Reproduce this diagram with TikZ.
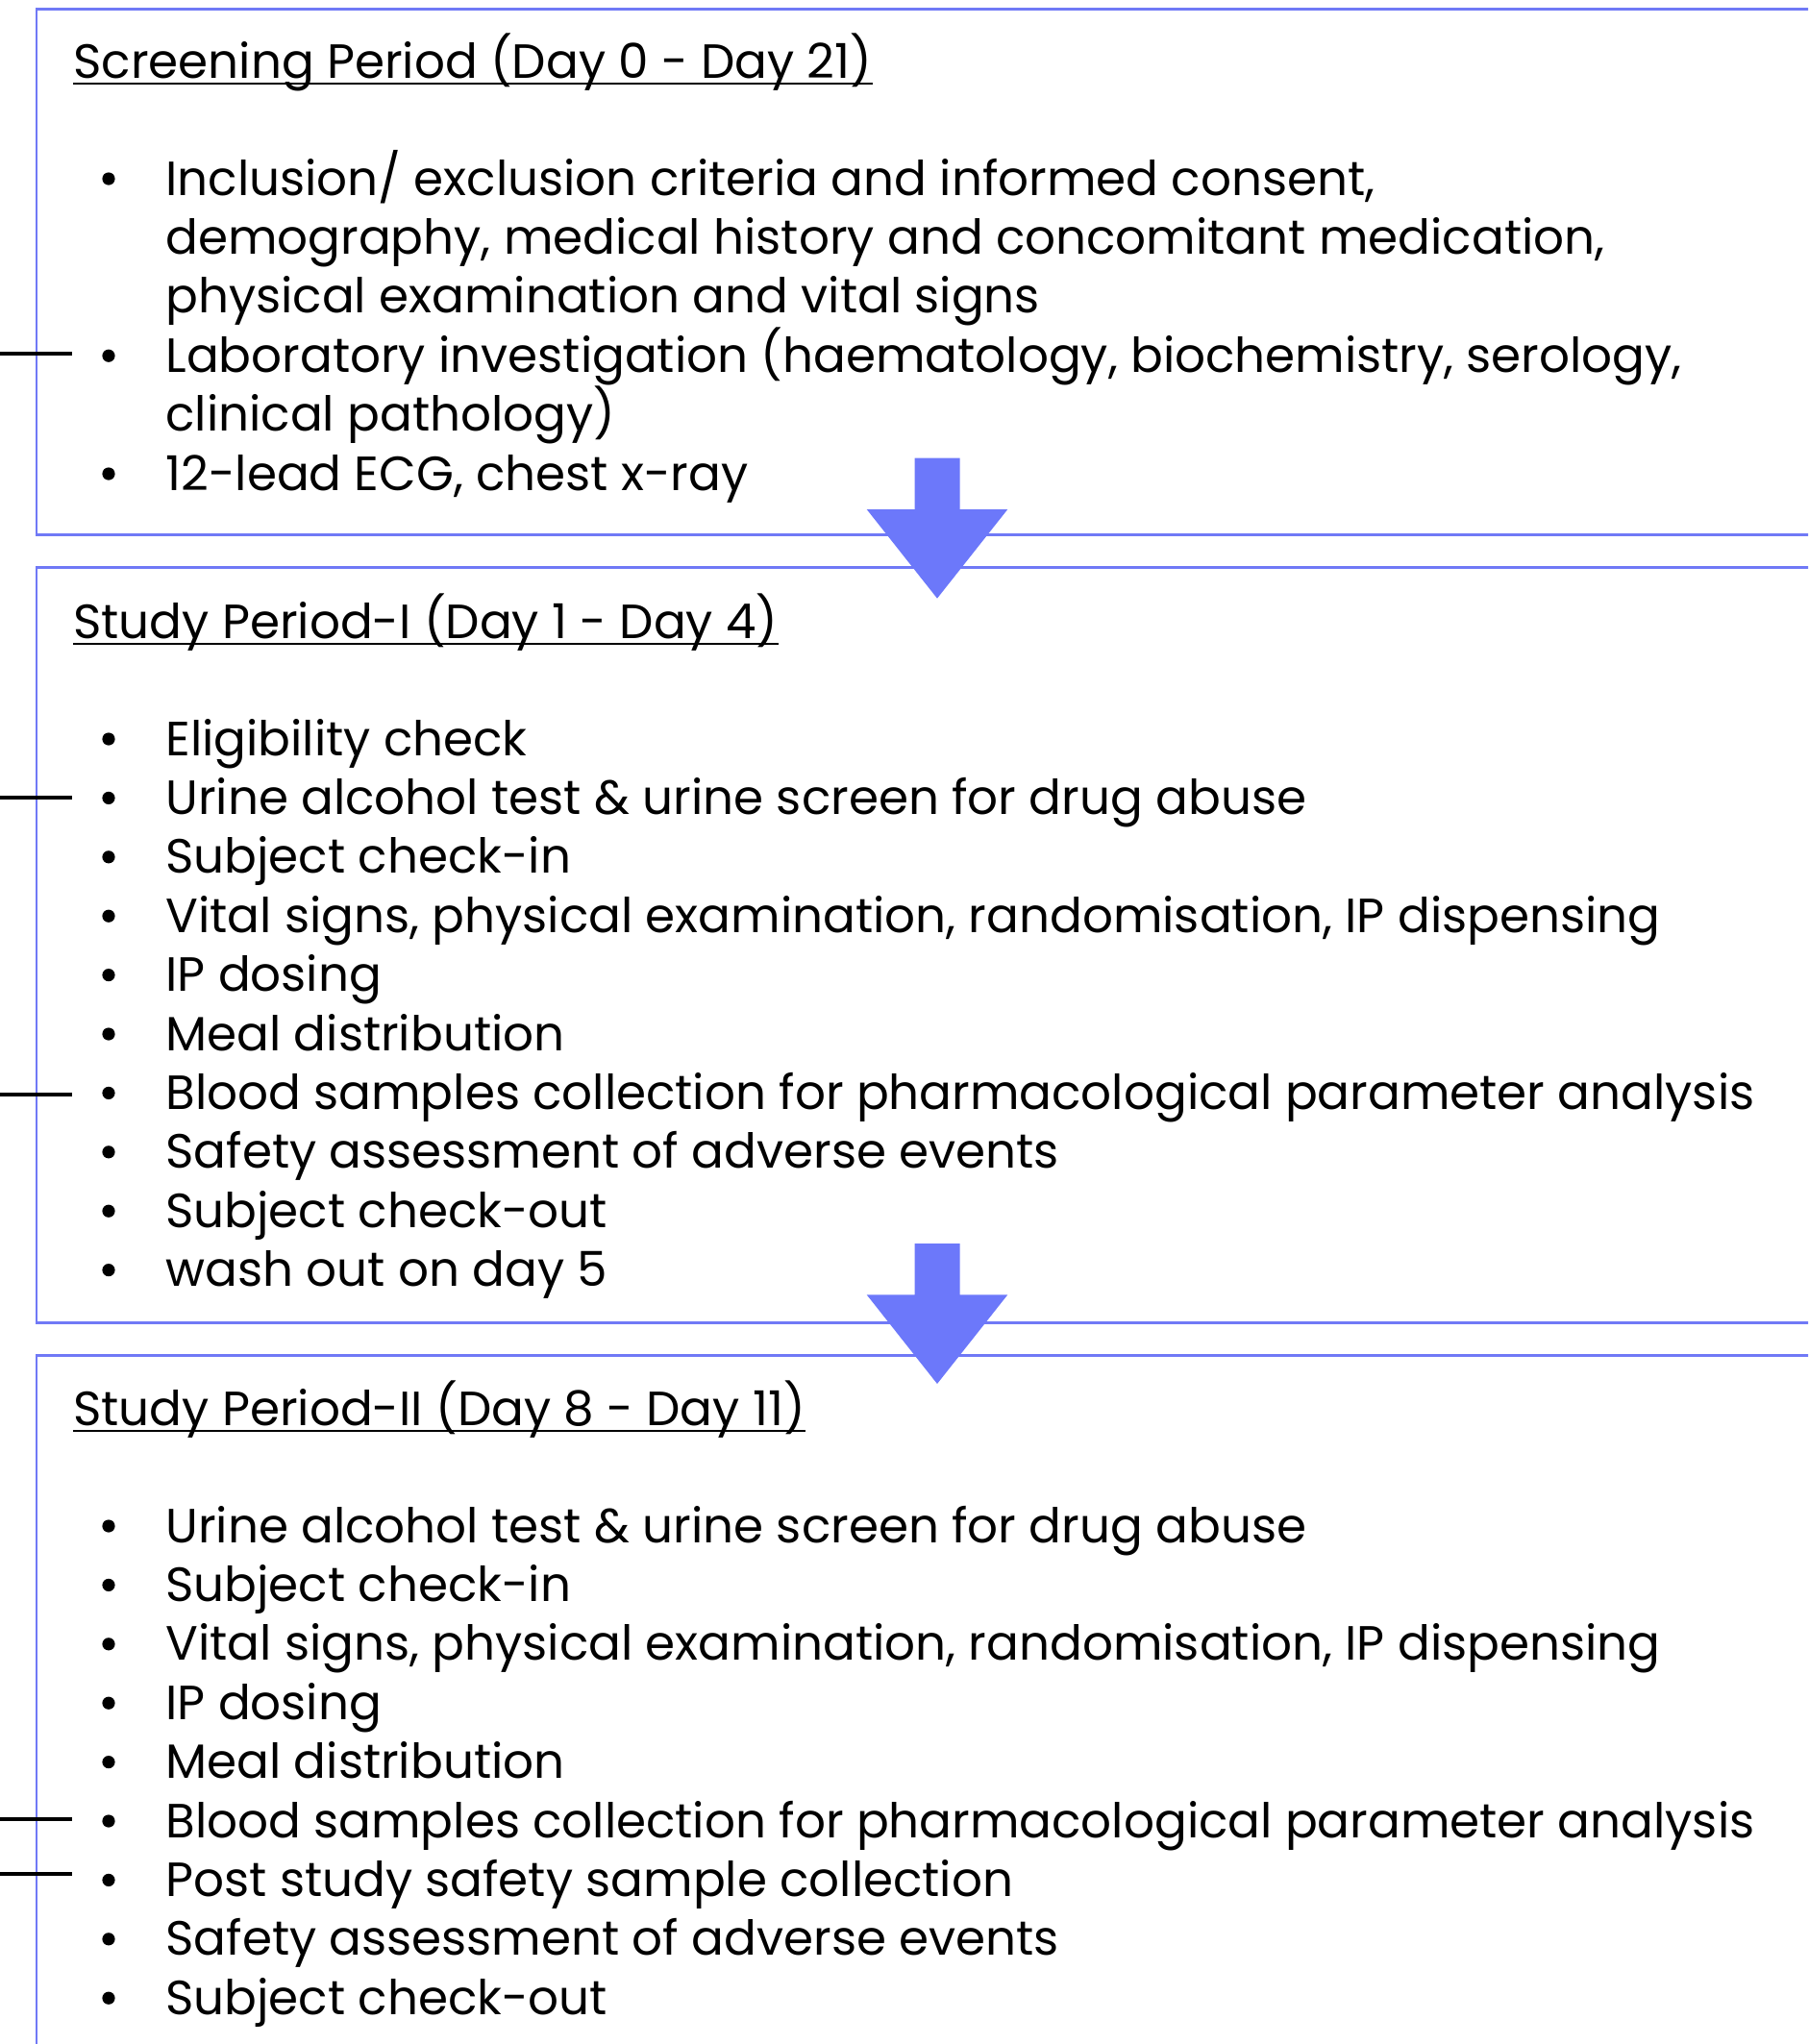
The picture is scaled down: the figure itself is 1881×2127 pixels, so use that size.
\documentclass[tikz,border=0pt]{standalone}
\usepackage{fontspec}
\setmainfont{Poppins}
\usetikzlibrary{calc}
\definecolor{frameblue}{RGB}{112,121,246}
\definecolor{arrowblue}{RGB}{108,120,250}
% one bullet line: name, baseline, text
\newcommand\bulletrow[3]{%
  \node[dot] (#1b) at (113,#2-17) {};
  \node[entry] (#1) at (172,#2) {#3};}
% continuation line of a wrapped bullet item
\newcommand\wraprow[3]{%
  \node[entry] (#1) at (172,#2) {#3};}
% period heading with its underline
\newcommand\heading[3]{%
  \node[entry] (#1) at (76,#2) {#3};
  \draw[uline] ($(#1.base west)+(0,6)$) -- ($(#1.base east)+(0,6)$);}
\begin{document}
\begin{tikzpicture}[x=0.5pt,y=-0.5pt,
  entry/.style={anchor=base west, inner sep=0pt, font=\fontsize{25pt}{30pt}\selectfont},
  dot/.style={circle, fill=black, inner sep=0pt, minimum size=6.6pt},
  frame/.style={draw=frameblue, line width=1.2pt},
  flow/.style={fill=arrowblue},
  tick/.style={draw=black, line width=2.1pt},
  uline/.style={draw=black, line width=1.4pt}]
\useasboundingbox (0,0) rectangle (1881,2127);
\clip (0,0) rectangle (1881,2127);

% period frames (open on the right and at the bottom)
\draw[frame] (38,9.5) rectangle (1900,556.5);
\draw[frame] (38,590.5) rectangle (1900,1376.5);
\draw[frame] (38,1410.5) rectangle (1900,2200);

% screening period
\heading{h1}{81}{Screening Period (Day 0 - Day 21)}
\bulletrow{s1}{203}{Inclusion/ exclusion criteria and informed consent,}
\wraprow{s1a}{264.4}{demography, medical history and concomitant medication,}
\wraprow{s1b}{325.8}{physical examination and vital signs}
\bulletrow{s2}{387.2}{Laboratory investigation (haematology, biochemistry, serology,}
\wraprow{s2a}{448.6}{clinical pathology)}
\bulletrow{s3}{510}{12-lead ECG, chest x-ray}

% study period I
\heading{h2}{664}{Study Period-I (Day 1 - Day 4)}
\bulletrow{p1}{786}{Eligibility check}
\bulletrow{p2}{847.4}{Urine alcohol test \& urine screen for drug abuse}
\bulletrow{p3}{908.8}{Subject check-in}
\bulletrow{p4}{970.2}{Vital signs, physical examination, randomisation, IP dispensing}
\bulletrow{p5}{1031.6}{IP dosing}
\bulletrow{p6}{1093}{Meal distribution}
\bulletrow{p7}{1154.4}{Blood samples collection for pharmacological parameter analysis}
\bulletrow{p8}{1215.8}{Safety assessment of adverse events}
\bulletrow{p9}{1277.2}{Subject check-out}
\bulletrow{p10}{1338.6}{wash out on day 5}

% study period II
\heading{h3}{1483}{Study Period-II (Day 8 - Day 11)}
\bulletrow{q1}{1605}{Urine alcohol test \& urine screen for drug abuse}
\bulletrow{q2}{1666.4}{Subject check-in}
\bulletrow{q3}{1727.8}{Vital signs, physical examination, randomisation, IP dispensing}
\bulletrow{q4}{1789.2}{IP dosing}
\bulletrow{q5}{1850.6}{Meal distribution}
\bulletrow{q6}{1912}{Blood samples collection for pharmacological parameter analysis}
\bulletrow{q7}{1973.4}{Post study safety sample collection}
\bulletrow{q8}{2034.8}{Safety assessment of adverse events}
\bulletrow{q9}{2096.2}{Subject check-out}

% side ticks
\foreach \y/\n in {367.7/t1,830/t2,1139/t3,1893/t4,1950/t5}
  \draw[tick] (0,\y) coordinate (\n) -- (75,\y);

% flow arrows between periods
\foreach \top in {476.7,1294}
  \fill[flow] (951.5,\top) -- (998.5,\top) -- (998.5,\top+53.3) -- (1048.3,\top+53.3)
     -- (975,\top+146) -- (901.7,\top+53.3) -- (951.5,\top+53.3) -- cycle;
\end{tikzpicture}
\end{document}
